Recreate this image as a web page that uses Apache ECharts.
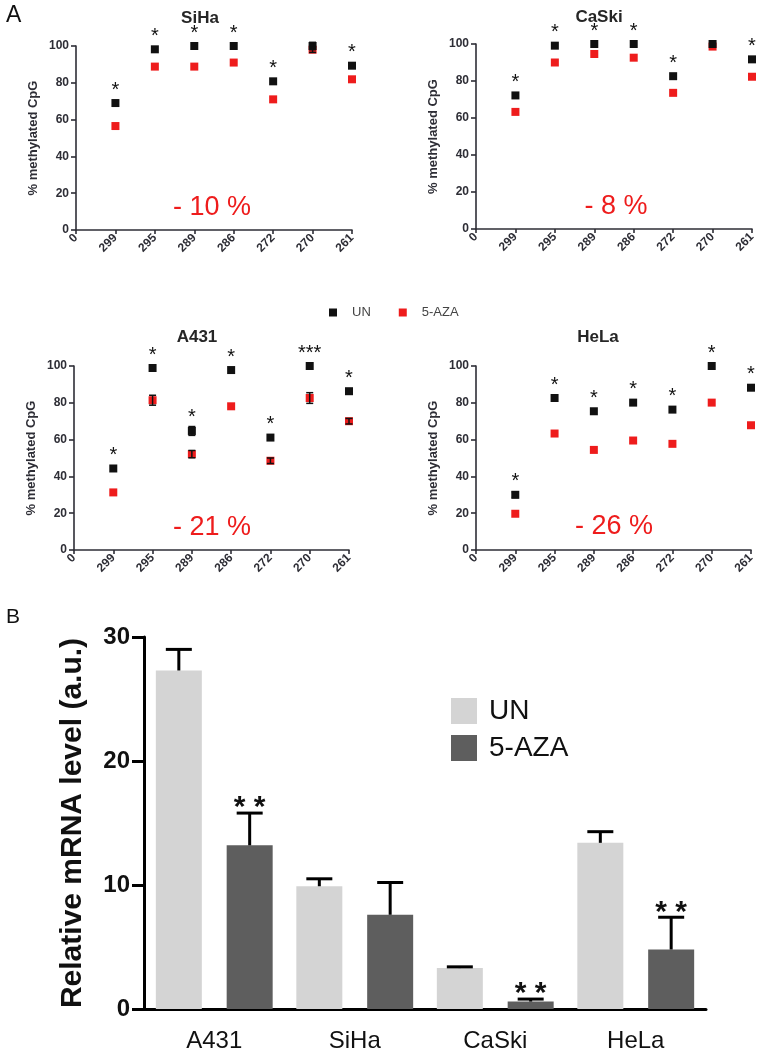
<!DOCTYPE html>
<html>
<head>
<meta charset="utf-8">
<script src="https://cdn.jsdelivr.net/npm/echarts@6/dist/echarts.min.js"></script>
<style>
    html, body { margin: 0; padding: 0; background: #fff; }
    #main { width: 768px; height: 1058px; }
</style>
</head>
<body>
<div id="main"></div>
<script>
'use strict';

// CpG positions (x axis of panel A)
const cpgSites = ['0', '299', '295', '289', '286', '272', '270', '261'];

const sihaUN = [69, 98.2, 100, 100, 80.8, 100, 89.3];
const sihaAZA = [56.5, 88.8, 88.8, 91, 71, 98, 81.9];
const sihaUNErr = [0, 0, 0, 0, 0, 2, 0];
const sihaAZAErr = [0, 0, 0, 0, 0, 1.5, 0];
const sihaStars = ['*', '*', '*', '*', '*', '', '*'];

const caskiUN = [72.2, 99.1, 100, 100, 82.6, 100, 91.7];
const caskiAZA = [63.3, 90, 94.6, 92.6, 73.6, 98.6, 82.3];
const caskiUNErr = [0, 0, 0, 0, 0, 0, 0];
const caskiAZAErr = [0, 0, 0, 0, 0, 0, 0];
const caskiStars = ['*', '*', '*', '*', '*', '', '*'];

const a431UN = [44.3, 98.9, 64.7, 97.8, 61.1, 100, 86.3];
const a431AZA = [31.3, 81.4, 52.1, 78.1, 48.5, 82.6, 70];
const a431UNErr = [0, 0, 2.4, 0, 0, 0, 0];
const a431AZAErr = [0, 2.7, 2, 0, 1.5, 2.9, 1.5];
const a431Stars = ['*', '*', '*', '*', '*', '***', '*'];

const helaUN = [30, 82.6, 75.4, 80.1, 76.3, 100, 88.2];
const helaAZA = [19.7, 63.3, 54.4, 59.5, 57.7, 80.1, 67.8];
const helaUNErr = [1.5, 0, 0, 0, 0, 0, 0];
const helaAZAErr = [0, 0, 0, 0, 0, 0, 0];
const helaStars = ['*', '*', '*', '*', '*', '*', '*'];

const cpgDrop = ['- 10 %', '- 8 %', '- 21 %', '- 26 %'];
const panelNames = ['SiHa', 'CaSki', 'A431', 'HeLa'];

// panel B
const cellLines = ['A431', 'SiHa', 'CaSki', 'HeLa'];
const mrnaUN = [27.3, 9.9, 3.3, 13.4];
const mrnaUNErr = [1.7, 0.6, 0.1, 0.9];
const mrnaAZA = [13.2, 7.6, 0.6, 4.8];
const mrnaAZAErr = [2.6, 2.6, 0.2, 2.6];
const mrnaStars = ['**', '', '**', '**'];

const FONT = "'Liberation Sans', Arial, sans-serif";
const RED = '#ee1c1c';
const INK = '#2e2e36';
const BAR_W = 46;
const BAR_GAP = 0.54;

const panels = [
    {un: sihaUN, aza: sihaAZA, unErr: sihaUNErr, azaErr: sihaAZAErr, stars: sihaStars,
        grid: {left: 76, top: 46, width: 276, height: 184}, title: [200, 18], drop: [212, 208]},
    {un: caskiUN, aza: caskiAZA, unErr: caskiUNErr, azaErr: caskiAZAErr, stars: caskiStars,
        grid: {left: 476, top: 44, width: 276, height: 185}, title: [599, 17], drop: [616, 207]},
    {un: a431UN, aza: a431AZA, unErr: a431UNErr, azaErr: a431AZAErr, stars: a431Stars,
        grid: {left: 74, top: 366, width: 275, height: 184}, title: [197, 337], drop: [212, 528]},
    {un: helaUN, aza: helaAZA, unErr: helaUNErr, azaErr: helaAZAErr, stars: helaStars,
        grid: {left: 476, top: 366, width: 275, height: 184}, title: [598, 337], drop: [614, 527]}
];

const toPts = (arr) => arr.map((v, i) => [i + 1, v]);

function smallErrRender(params, api) {
    const err = api.value(2);
    if (!err) return;
    const lo = api.coord([api.value(0), api.value(1) - err]);
    const hi = api.coord([api.value(0), api.value(1) + err]);
    const st = {stroke: '#111', lineWidth: 1.5};
    return {
        type: 'group',
        children: [
            {type: 'line', shape: {x1: lo[0], y1: lo[1], x2: hi[0], y2: hi[1]}, style: st},
            {type: 'line', shape: {x1: lo[0] - 3.5, y1: lo[1], x2: lo[0] + 3.5, y2: lo[1]}, style: st},
            {type: 'line', shape: {x1: hi[0] - 3.5, y1: hi[1], x2: hi[0] + 3.5, y2: hi[1]}, style: st}
        ]
    };
}

function barErrRender(params, api) {
    const shift = api.value(3) * (BAR_W + BAR_W * BAR_GAP) / 2;
    const base = api.coord([api.value(0), api.value(1)]);
    const top = api.coord([api.value(0), api.value(1) + api.value(2)]);
    const x = base[0] + shift;
    const st = {stroke: '#000', lineWidth: 3};
    const kids = [
        {type: 'line', shape: {x1: x, y1: base[1], x2: x, y2: top[1]}, style: st},
        {type: 'line', shape: {x1: x - 13, y1: top[1], x2: x + 13, y2: top[1]}, style: st}
    ];
    const stars = api.value(3) < 0 ? '' : mrnaStars[params.dataIndex];
    if (stars) {
        kids.push({type: 'text', style: {text: stars.split('').join(' '), x: x, y: top[1] + 10, align: 'center',
            verticalAlign: 'bottom', font: 'bold 30px ' + FONT, fill: '#111'}});
    }
    return {type: 'group', children: kids};
}

const grids = [], xAxes = [], yAxes = [], series = [], graphics = [];

panels.forEach(function (p, k) {
    grids.push(p.grid);
    xAxes.push({
        gridIndex: k, type: 'category', data: cpgSites, boundaryGap: false,
        axisLine: {lineStyle: {color: INK, width: 1.6}},
        axisTick: {interval: 0, length: 4, lineStyle: {color: INK, width: 1.6}},
        axisLabel: {interval: 0, rotate: 45, margin: 6, color: INK, fontWeight: 'bold', fontSize: 12, fontFamily: FONT},
        splitLine: {show: false}
    });
    yAxes.push({
        gridIndex: k, type: 'value', min: 0, max: 100, interval: 20,
        name: '% methylated CpG', nameLocation: 'middle', nameGap: 36,
        nameTextStyle: {color: INK, fontWeight: 'bold', fontSize: 13, fontFamily: FONT},
        axisLine: {show: true, lineStyle: {color: INK, width: 1.6}},
        axisTick: {show: true, length: 5, lineStyle: {color: INK, width: 1.6}},
        axisLabel: {margin: 7, color: INK, fontWeight: 'bold', fontSize: 12, fontFamily: FONT},
        splitLine: {show: false}
    });
    series.push({
        name: '5-AZA', type: 'scatter', xAxisIndex: k, yAxisIndex: k,
        symbol: 'rect', symbolSize: 8, itemStyle: {color: RED, opacity: 1}, data: toPts(p.aza)
    });
    series.push({
        name: 'UN', type: 'scatter', xAxisIndex: k, yAxisIndex: k,
        symbol: 'rect', symbolSize: 8, itemStyle: {color: '#111', opacity: 1}, data: toPts(p.un),
        label: {show: true, position: 'top', distance: -1, color: '#111', fontSize: 20, fontFamily: FONT,
            formatter: (x) => p.stars[x.dataIndex]}
    });
    series.push({
        type: 'custom', xAxisIndex: k, yAxisIndex: k, renderItem: smallErrRender, z: 5,
        data: p.un.map((v, i) => [i + 1, v, p.unErr[i]]).concat(p.aza.map((v, i) => [i + 1, v, p.azaErr[i]]))
    });
    graphics.push({type: 'text', style: {text: panelNames[k], x: p.title[0], y: p.title[1], align: 'center',
        verticalAlign: 'middle', font: 'bold 17px ' + FONT, fill: '#262626'}});
    graphics.push({type: 'text', style: {text: cpgDrop[k], x: p.drop[0], y: p.drop[1], align: 'center',
        verticalAlign: 'middle', font: '27px ' + FONT, fill: RED}});
});

// panel B
grids.push({left: 144, top: 637, width: 562, height: 372});
xAxes.push({
    gridIndex: 4, type: 'category', data: cellLines,
    axisLine: {lineStyle: {color: '#000', width: 3}},
    axisTick: {show: false},
    axisLabel: {margin: 20, color: '#111', fontSize: 24, fontFamily: FONT}
});
yAxes.push({
    gridIndex: 4, type: 'value', min: 0, max: 30, interval: 10,
    name: 'Relative mRNA level (a.u.)', nameLocation: 'middle', nameGap: 56,
    nameTextStyle: {color: '#111', fontWeight: 'bold', fontSize: 30, fontFamily: FONT},
    axisLine: {show: true, lineStyle: {color: '#000', width: 3}},
    axisTick: {show: true, length: 12, lineStyle: {color: '#000', width: 3}},
    axisLabel: {margin: 14, color: '#111', fontWeight: 'bold', fontSize: 24, fontFamily: FONT},
    splitLine: {show: false}
});
series.push({
    name: 'mRNA UN', type: 'bar', xAxisIndex: 4, yAxisIndex: 4, barWidth: BAR_W,
    barGap: (BAR_GAP * 100) + '%', itemStyle: {color: '#d4d4d4'}, data: mrnaUN
});
series.push({
    name: 'mRNA 5-AZA', type: 'bar', xAxisIndex: 4, yAxisIndex: 4, barWidth: BAR_W,
    barGap: (BAR_GAP * 100) + '%', itemStyle: {color: '#5e5e5e'}, data: mrnaAZA
});
series.push({
    type: 'custom', xAxisIndex: 4, yAxisIndex: 4, renderItem: barErrRender, z: 5,
    data: mrnaUN.map((v, i) => [i, v, mrnaUNErr[i], -1])
});
series.push({
    type: 'custom', xAxisIndex: 4, yAxisIndex: 4, renderItem: barErrRender, z: 5,
    data: mrnaAZA.map((v, i) => [i, v, mrnaAZAErr[i], 1])
});

graphics.push({type: 'text', style: {text: 'A', x: 6, y: 16, verticalAlign: 'middle', font: '23px ' + FONT, fill: '#111'}});
graphics.push({type: 'text', style: {text: 'B', x: 6, y: 617, verticalAlign: 'middle', font: '21px ' + FONT, fill: '#111'}});

const chart = echarts.init(document.getElementById('main'), null, {renderer: 'canvas'});
chart.setOption({
    animation: false,
    backgroundColor: '#fff',
    textStyle: {fontFamily: FONT},
    legend: [
        {data: ['UN', '5-AZA'], left: 324, top: 301, icon: 'rect', itemWidth: 8, itemHeight: 8, itemGap: 28,
            textStyle: {fontSize: 13, color: '#444', padding: [0, 0, 0, 10]}},
        {data: ['mRNA UN', 'mRNA 5-AZA'], orient: 'vertical', left: 446, top: 692, icon: 'rect',
            itemWidth: 26, itemHeight: 26, itemGap: 9, formatter: (n) => n.replace('mRNA ', ''),
            textStyle: {fontSize: 28, color: '#111', padding: [0, 0, 0, 7]}}
    ],
    grid: grids,
    xAxis: xAxes,
    yAxis: yAxes,
    series: series,
    graphic: graphics
});
</script>
</body>
</html>
